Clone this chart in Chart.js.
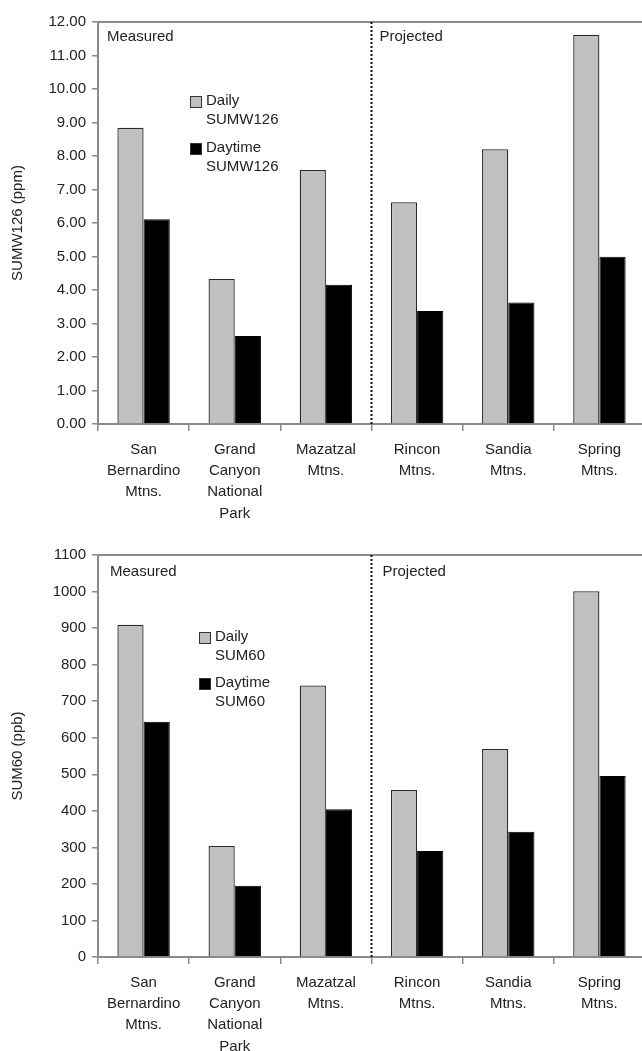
<!DOCTYPE html>
<html>
<head>
<meta charset="utf-8">
<script src="https://cdn.jsdelivr.net/npm/chart.js@4.4.1/dist/chart.umd.min.js"></script>
<style>
  html, body { margin: 0; padding: 0; overflow: hidden; background: #fff; width: 642px; height: 1051px; }
  canvas { display: block; }
</style>
</head>
<body>
<canvas id="ppmChart" width="650" height="530"></canvas>
<canvas id="ppbChart" width="650" height="521"></canvas>
<script>
// sites, split into label lines
const sites = [
  ['San', 'Bernardino', 'Mtns.'],
  ['Grand', 'Canyon', 'National', 'Park'],
  ['Mazatzal', 'Mtns.'],
  ['Rincon', 'Mtns.'],
  ['Sandia', 'Mtns.'],
  ['Spring', 'Mtns.']
];

// top panel, SUMW126 (ppm)
const dailySumw126 = [8.84, 4.33, 7.58, 6.62, 8.20, 11.62];
const daytimeSumw126 = [6.11, 2.63, 4.16, 3.37, 3.63, 4.99];

// bottom panel, SUM60 (ppb)
const dailySum60 = [909, 304, 743, 457, 569, 1001];
const daytimeSum60 = [644, 195, 404, 290, 343, 495];

const FONT = '"Liberation Sans", Arial, sans-serif';
const FONT_SIZE = 15;
const AXIS_GREY = '#8a8a8a';
const INK = '#222';

// frame line, measured/projected divider, notes and the inline legend
const panelDecor = {
  id: 'panelDecor',
  afterDatasetsDraw(chart, args, opts) {
    const { ctx, chartArea: a, scales: { x } } = chart;
    ctx.save();
    ctx.strokeStyle = AXIS_GREY;
    ctx.lineWidth = 2;
    ctx.beginPath();
    ctx.moveTo(a.left, a.top);
    ctx.lineTo(a.right, a.top);
    ctx.stroke();

    const sx = (x.getPixelForValue(2) + x.getPixelForValue(3)) / 2;
    ctx.strokeStyle = '#111';
    ctx.setLineDash([2, 2]);
    ctx.beginPath();
    ctx.moveTo(sx, a.top);
    ctx.lineTo(sx, a.bottom);
    ctx.stroke();
    ctx.setLineDash([]);

    ctx.fillStyle = INK;
    ctx.font = FONT_SIZE + 'px ' + FONT;
    ctx.textBaseline = 'middle';
    ctx.fillText('Measured', a.left + opts.noteX, a.top + opts.noteY);
    ctx.fillText('Projected', sx + opts.noteX - 1, a.top + opts.noteY);

    // legend
    const lg = opts.legend;
    chart.data.datasets.forEach((ds, i) => {
      const boxY = a.top + lg.y + i * lg.gap;
      ctx.fillStyle = ds.backgroundColor;
      ctx.fillRect(a.left + lg.x, boxY, 12, 12);
      ctx.strokeStyle = '#333';
      ctx.lineWidth = 1;
      ctx.strokeRect(a.left + lg.x + 0.5, boxY + 0.5, 11, 11);
      ctx.fillStyle = INK;
      ds.label.split('\n').forEach((line, j) => {
        ctx.fillText(line, a.left + lg.x + 16, boxY + 5 + j * 19);
      });
    });
    ctx.restore();
  }
};

function makePanel(id, daily, daytime, seriesName, yMax, yStep, yTitle, decimals, padTop, xHeight, decor) {
  return new Chart(document.getElementById(id), {
    type: 'bar',
    data: {
      labels: sites,
      datasets: [
        { label: 'Daily\n' + seriesName, data: daily, backgroundColor: '#c0c0c0', borderColor: '#2a2a2a', borderWidth: 1.3 },
        { label: 'Daytime\n' + seriesName, data: daytime, backgroundColor: '#000', borderColor: '#000', borderWidth: 1 }
      ]
    },
    options: {
      responsive: false,
      animation: false,
      layout: { padding: { top: padTop, right: 5, left: 0, bottom: 0 } },
      datasets: { bar: { categoryPercentage: 0.575, barPercentage: 1 } },
      plugins: {
        legend: { display: false },
        tooltip: { enabled: false },
        panelDecor: decor
      },
      scales: {
        x: {
          afterFit(scale) { scale.height = xHeight; },
          grid: { drawOnChartArea: false, offset: true, tickLength: 7, color: AXIS_GREY, lineWidth: 1.5 },
          border: { display: true, color: AXIS_GREY, width: 2 },
          ticks: { color: INK, padding: 8, font: { family: FONT, size: FONT_SIZE, lineHeight: 1.42 }, maxRotation: 0, autoSkip: false }
        },
        y: {
          min: 0,
          max: yMax,
          afterFit(scale) { scale.width = 98; },
          grid: { drawOnChartArea: false, tickLength: 6, color: AXIS_GREY, lineWidth: 1.5 },
          border: { display: true, color: AXIS_GREY, width: 2 },
          ticks: {
            stepSize: yStep,
            color: INK,
            padding: 6,
            font: { family: FONT, size: FONT_SIZE },
            callback: v => v.toFixed(decimals)
          },
          title: { display: true, text: yTitle, color: INK, font: { family: FONT, size: FONT_SIZE }, padding: { top: 9, bottom: 0 } }
        }
      }
    },
    plugins: [panelDecor]
  });
}

makePanel('ppmChart', dailySumw126, daytimeSumw126, 'SUMW126', 12, 1, 'SUMW126 (ppm)', 2, 22, 106,
  { noteX: 9, noteY: 15, legend: { x: 92, y: 74, gap: 47 } });

makePanel('ppbChart', dailySum60, daytimeSum60, 'SUM60', 1100, 100, 'SUM60 (ppb)', 0, 25, 94,
  { noteX: 12, noteY: 17, legend: { x: 101, y: 77, gap: 46 } });
</script>
</body>
</html>
